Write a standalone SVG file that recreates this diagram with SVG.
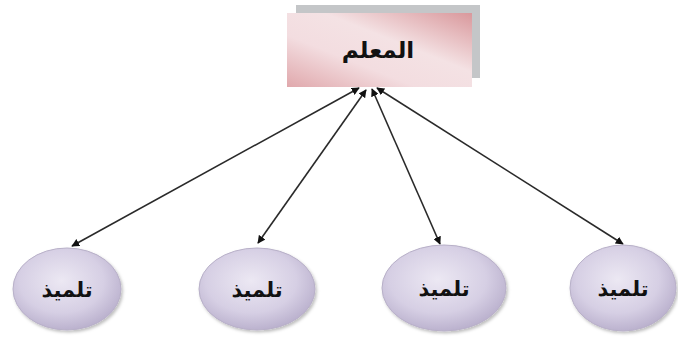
<svg xmlns="http://www.w3.org/2000/svg" width="678" height="340" viewBox="0 0 678 340">
  <style>
    .lbl { font-family: "DejaVu Sans", "Liberation Sans", sans-serif; font-weight: bold; fill: #111; text-anchor: middle; }
    .edge { stroke: #2a2a2a; stroke-width: 1.6; fill: none; marker-start: url(#ah); marker-end: url(#ah); }
    .student { fill: url(#ellG); stroke: #b8b0c8; stroke-width: 1; }
  </style>
  <defs>
    <marker id="ah" viewBox="0 0 10 10" refX="9" refY="5" markerWidth="8" markerHeight="8" orient="auto-start-reverse" markerUnits="userSpaceOnUse">
      <path d="M0,0 L10,5 L0,10 z" fill="#111"/>
    </marker>
    <linearGradient id="rectG" x1="0" y1="1" x2="1" y2="0">
      <stop offset="0" stop-color="#e0a8ac"/>
      <stop offset="0.35" stop-color="#f3dde0"/>
      <stop offset="0.6" stop-color="#f4e2e4"/>
      <stop offset="1" stop-color="#d9989c"/>
    </linearGradient>
    <radialGradient id="ellG" cx="0.45" cy="0.4" r="0.65">
      <stop offset="0" stop-color="#ece8f3"/>
      <stop offset="0.6" stop-color="#d6cfe4"/>
      <stop offset="1" stop-color="#b5abc9"/>
    </radialGradient>
    <filter id="sh" x="-10%" y="-10%" width="130%" height="130%">
      <feDropShadow dx="1.5" dy="2" stdDeviation="1.5" flood-color="#000" flood-opacity="0.25"/>
    </filter>
  </defs>

  <!-- teacher box -->
  <g id="teacher">
    <rect x="296" y="5" width="184" height="73" fill="#c4c6c8"/>
    <rect x="287" y="13" width="185" height="74" fill="url(#rectG)"/>
    <text class="lbl" x="378" y="58" font-size="23">المعلم</text>
  </g>

  <!-- connectors -->
  <g id="connectors">
    <line class="edge" x1="359" y1="88" x2="72" y2="246"/>
    <line class="edge" x1="366" y1="90" x2="258" y2="243"/>
    <line class="edge" x1="372" y1="89" x2="440" y2="244"/>
    <line class="edge" x1="377" y1="88" x2="623" y2="244"/>
  </g>

  <!-- students -->
  <g id="student1">
    <ellipse class="student" cx="67" cy="289" rx="54" ry="41" filter="url(#sh)"/>
    <text class="lbl" x="67" y="297" font-size="21">تلميذ</text>
  </g>
  <g id="student2">
    <ellipse class="student" cx="257" cy="289" rx="58" ry="41" filter="url(#sh)"/>
    <text class="lbl" x="257" y="297" font-size="21">تلميذ</text>
  </g>
  <g id="student3">
    <ellipse class="student" cx="444" cy="288" rx="62" ry="43" filter="url(#sh)"/>
    <text class="lbl" x="444" y="296" font-size="21">تلميذ</text>
  </g>
  <g id="student4">
    <ellipse class="student" cx="623" cy="288" rx="53" ry="43" filter="url(#sh)"/>
    <text class="lbl" x="623" y="296" font-size="21">تلميذ</text>
  </g>
</svg>
